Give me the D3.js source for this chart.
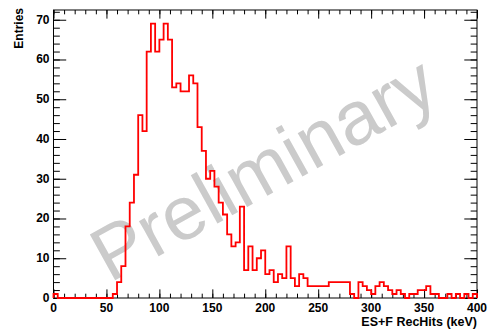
<!DOCTYPE html>
<html>
<head>
<meta charset="utf-8">
<script src="https://cdnjs.cloudflare.com/ajax/libs/d3/7.8.5/d3.min.js"></script>
<style>
  body { margin: 0; background: #fff; }
  text { font-family: "Liberation Sans", Arial, Helvetica, sans-serif; }
</style>
</head>
<body>
<div class="chart"></div>
<script>
// histogram: 100 bins of 4 keV from 0 to 400
var xRange = [0, 400];
var counts = [
  1, 0, 0, 0, 0, 0, 0, 0, 0, 0,
  0, 0, 0, 0, 1, 4, 8, 18, 24, 31,
  46, 42, 62, 69, 62, 65, 69, 65, 53, 54,
  52, 52, 56, 54, 43, 37, 30, 32, 28, 24,
  21, 16, 13, 14, 23, 7, 13, 7, 10, 12,
  6, 7, 4, 6, 5, 13, 5, 3, 6, 5,
  3, 3, 3, 3, 3, 4, 4, 4, 4, 4,
  1, 0, 4, 3, 2, 1, 3, 4, 3, 2,
  1, 2, 1, 0, 1, 1, 2, 2, 3, 1,
  1, 0, 0, 1, 0, 1, 0, 1, 0, 1
];
var xTicks = [0, 50, 100, 150, 200, 250, 300, 350, 400];
var yTicks = [0, 10, 20, 30, 40, 50, 60, 70];
var xTitle = 'ES+F RecHits (keV)';
var yTitle = 'Entries';
var watermark = 'Preliminary';

var W = 489, H = 334;
var frame = { left: 53.5, top: 10, right: 477, bottom: 298 };

var svg = d3.select('.chart')
  .append('svg')
  .attr('width', W)
  .attr('height', H);

var binW = (xRange[1] - xRange[0]) / counts.length;
var x = d3.scaleLinear().domain(xRange).range([frame.left, frame.right]);
var y = d3.scaleLinear().domain([0, d3.max(counts) * 1.05]).range([frame.bottom, frame.top]);

// minor ticks every 10 keV / 2 entries
var xMinor = d3.range(0, 401, 10);
var yMinor = d3.range(0, 73, 2);
var fw = frame.right - frame.left, fh = frame.bottom - frame.top;
var xMaj = 0.03 * fh, yMaj = 0.03 * fw;

// watermark under the histogram
svg.append('text')
  .text(watermark)
  .attr('transform', 'translate(263,168) rotate(-29)')
  .attr('text-anchor', 'middle')
  .attr('dominant-baseline', 'central')
  .style('font-size', '76px')
  .style('fill', '#cbcbcb');

function tickAxis(axis, g) {
  g.call(axis);
  g.select('.domain').remove();
  g.selectAll('line').attr('stroke', '#000').attr('stroke-width', 1);
  g.selectAll('text').remove();
}

// bottom
tickAxis(d3.axisBottom(x).tickValues(xMinor).tickSize(-xMaj / 2),
  svg.append('g').attr('transform', 'translate(0,' + frame.bottom + ')'));
tickAxis(d3.axisBottom(x).tickValues(xTicks).tickSize(-xMaj),
  svg.append('g').attr('transform', 'translate(0,' + frame.bottom + ')'));
// top
tickAxis(d3.axisTop(x).tickValues(xMinor).tickSize(-xMaj / 2),
  svg.append('g').attr('transform', 'translate(0,' + frame.top + ')'));
tickAxis(d3.axisTop(x).tickValues(xTicks).tickSize(-xMaj),
  svg.append('g').attr('transform', 'translate(0,' + frame.top + ')'));
// left
tickAxis(d3.axisLeft(y).tickValues(yMinor).tickSize(-yMaj / 2),
  svg.append('g').attr('transform', 'translate(' + frame.left + ',0)'));
tickAxis(d3.axisLeft(y).tickValues(yTicks).tickSize(-yMaj),
  svg.append('g').attr('transform', 'translate(' + frame.left + ',0)'));
// right
tickAxis(d3.axisRight(y).tickValues(yMinor).tickSize(-yMaj / 2),
  svg.append('g').attr('transform', 'translate(' + frame.right + ',0)'));
tickAxis(d3.axisRight(y).tickValues(yTicks).tickSize(-yMaj),
  svg.append('g').attr('transform', 'translate(' + frame.right + ',0)'));

// frame
svg.append('rect')
  .attr('x', frame.left)
  .attr('y', frame.top)
  .attr('width', fw)
  .attr('height', fh)
  .attr('fill', 'none')
  .attr('stroke', '#000')
  .attr('stroke-width', 1);

// histogram outline
var path = d3.path();
path.moveTo(x(xRange[0]), y(0));
counts.forEach(function(c, i) {
  path.lineTo(x(xRange[0] + i * binW), y(c));
  path.lineTo(x(xRange[0] + (i + 1) * binW), y(c));
});
path.lineTo(x(xRange[1]), y(0));
svg.append('path')
  .attr('d', path.toString())
  .attr('fill', 'none')
  .attr('stroke', '#ff0000')
  .attr('stroke-width', 1.8);

// tick labels
svg.selectAll('.xlab').data(xTicks).enter().append('text')
  .attr('class', 'xlab')
  .attr('x', function(d) { return x(d); })
  .attr('y', frame.bottom + 14)
  .attr('text-anchor', 'middle')
  .style('font-size', '12px')
  .style('font-weight', 'bold')
  .text(function(d) { return d; });

svg.selectAll('.ylab').data(yTicks).enter().append('text')
  .attr('class', 'ylab')
  .attr('x', frame.left - 4)
  .attr('y', function(d) { return y(d) + 4; })
  .attr('text-anchor', 'end')
  .style('font-size', '12px')
  .style('font-weight', 'bold')
  .text(function(d) { return d; });

// axis titles
svg.append('text')
  .attr('x', frame.right)
  .attr('y', frame.bottom + 28)
  .attr('text-anchor', 'end')
  .style('font-size', '12.5px')
  .style('font-weight', 'bold')
  .text(xTitle);

svg.append('text')
  .attr('transform', 'translate(23,' + (frame.top - 2) + ') rotate(-90)')
  .attr('text-anchor', 'end')
  .style('font-size', '12px')
  .style('font-weight', 'bold')
  .text(yTitle);
</script>
</body>
</html>
